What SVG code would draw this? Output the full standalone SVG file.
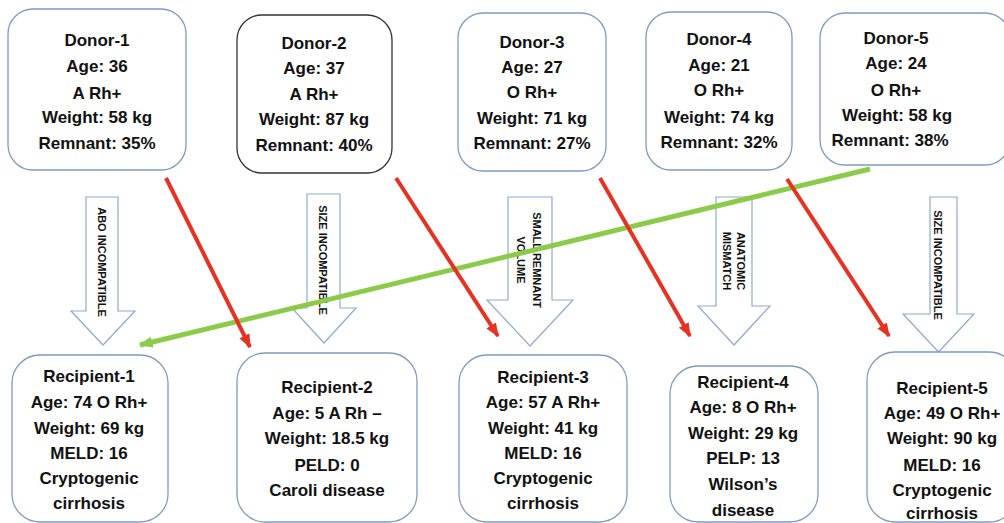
<svg xmlns="http://www.w3.org/2000/svg" width="1004" height="523" viewBox="0 0 1004 523">
<style>
.box{fill:#fff;stroke:#7f9bc3;stroke-width:1.3}
.dark{stroke:#333}
.t{font-family:"Liberation Sans",Arial,sans-serif;font-weight:bold;font-size:17px;fill:#111;text-anchor:middle}
.bl{fill:#fff;stroke:#8eaad0;stroke-width:1.2}
.at{font-family:"Liberation Sans",Arial,sans-serif;font-weight:bold;font-size:11px;fill:#111;text-anchor:middle;dominant-baseline:central}
.red{stroke:#e53222;stroke-width:4;fill:none;marker-end:url(#rh)}
.grn{stroke:#8ccb4a;stroke-width:5;fill:none;marker-end:url(#gh)}
</style>
<defs>
<marker id="rh" markerUnits="userSpaceOnUse" markerWidth="14" markerHeight="14" viewBox="0 0 10 10" refX="9" refY="5" orient="auto"><path d="M0,1 L10,5 L0,9 Z" fill="#e53222"/></marker>
<marker id="gh" markerUnits="userSpaceOnUse" markerWidth="14" markerHeight="14" viewBox="0 0 10 10" refX="9" refY="5" orient="auto"><path d="M0,1 L10,5 L0,9 Z" fill="#8ccb4a"/></marker>
</defs>
<rect width="1004" height="523" fill="#fff"/>
<g id="donor-1"><rect class="box" x="8" y="9" width="178" height="161" rx="25"/>
<text class="t" x="97" y="46">Donor-1</text><text class="t" x="97" y="72">Age: 36</text><text class="t" x="97" y="99">A Rh+</text><text class="t" x="97" y="123">Weight: 58 kg</text><text class="t" x="97" y="149">Remnant: 35%</text></g>
<g id="donor-2"><rect class="box dark" x="237" y="15" width="155" height="158" rx="25"/>
<text class="t" x="314" y="49">Donor-2</text><text class="t" x="314" y="74">Age: 37</text><text class="t" x="314" y="100">A Rh+</text><text class="t" x="314" y="125">Weight: 87 kg</text><text class="t" x="314" y="151">Remnant: 40%</text></g>
<g id="donor-3"><rect class="box" x="458" y="13" width="148" height="158" rx="25"/>
<text class="t" x="532" y="48">Donor-3</text><text class="t" x="532" y="73">Age: 27</text><text class="t" x="532" y="98">O Rh+</text><text class="t" x="532" y="124">Weight: 71 kg</text><text class="t" x="532" y="149">Remnant: 27%</text></g>
<g id="donor-4"><rect class="box" x="646" y="12" width="146" height="158" rx="25"/>
<text class="t" x="719" y="45">Donor-4</text><text class="t" x="719" y="71">Age: 21</text><text class="t" x="719" y="96">O Rh+</text><text class="t" x="719" y="123">Weight: 74 kg</text><text class="t" x="719" y="148">Remnant: 32%</text></g>
<g id="donor-5"><rect class="box" x="820" y="13" width="190" height="152" rx="25"/>
<text class="t" x="896" y="44">Donor-5</text><text class="t" x="896" y="69">Age: 24</text><text class="t" x="896" y="96">O Rh+</text><text class="t" x="897" y="121">Weight: 58 kg</text><text class="t" x="890" y="146">Remnant: 38%</text></g>
<g id="block-1"><polygon class="bl" points="86,197 118,197 118,311 135,311 103,345 71,311 86,311"/>
<text class="at" transform="translate(102,262) rotate(90)">ABO INCOMPATIBLE</text></g>
<g id="block-2"><polygon class="bl" points="307,194 340,194 340,308 356,308 324,343 292,308 307,308"/>
<text class="at" transform="translate(323,260) rotate(90)">SIZE INCOMPATIBLE</text></g>
<g id="block-3"><polygon class="bl" points="508,197 552,197 552,300 573,300 530,346 487,300 508,300"/>
<text class="at" transform="translate(537,260) rotate(90)">SMALL REMNANT</text><text class="at" transform="translate(521,260) rotate(90)">VOLUME</text></g>
<g id="block-4"><polygon class="bl" points="716,197 752,197 752,306 770,306 734,345 698,306 716,306"/>
<text class="at" transform="translate(741,261) rotate(90)">ANATOMIC</text><text class="at" transform="translate(727,261) rotate(90)">MISMATCH</text></g>
<g id="block-5"><polygon class="bl" points="930,197 957,197 957,314 974,314 938.5,352 903,314 930,314"/>
<text class="at" transform="translate(938,265) rotate(90)">SIZE INCOMPATIBLE</text></g>
<g id="recipient-1"><rect class="box" x="12" y="355" width="156" height="167" rx="28"/>
<text class="t" x="89" y="382">Recipient-1</text><text class="t" x="89" y="408">Age: 74 O Rh+</text><text class="t" x="89" y="434">Weight: 69 kg</text><text class="t" x="89" y="459">MELD: 16</text><text class="t" x="89" y="484">Cryptogenic</text><text class="t" x="89" y="509">cirrhosis</text></g>
<g id="recipient-2"><rect class="box" x="237" y="353" width="180" height="169" rx="28"/>
<text class="t" x="327" y="393">Recipient-2</text><text class="t" x="327" y="419">Age: 5 A Rh –</text><text class="t" x="327" y="444">Weight: 18.5 kg</text><text class="t" x="327" y="471">PELD: 0</text><text class="t" x="327" y="496">Caroli disease</text></g>
<g id="recipient-3"><rect class="box" x="459" y="355" width="168" height="167" rx="28"/>
<text class="t" x="543" y="383">Recipient-3</text><text class="t" x="543" y="408">Age: 57 A Rh+</text><text class="t" x="543" y="434">Weight: 41 kg</text><text class="t" x="543" y="459">MELD: 16</text><text class="t" x="543" y="484">Cryptogenic</text><text class="t" x="543" y="509">cirrhosis</text></g>
<g id="recipient-4"><rect class="box" x="670" y="366" width="148" height="156" rx="28"/>
<text class="t" x="743" y="388">Recipient-4</text><text class="t" x="743" y="413">Age: 8 O Rh+</text><text class="t" x="743" y="439">Weight: 29 kg</text><text class="t" x="743" y="464">PELP: 13</text><text class="t" x="743" y="490">Wilson’s</text><text class="t" x="743" y="516">disease</text></g>
<g id="recipient-5"><rect class="box" x="867" y="352" width="150" height="170" rx="28"/>
<text class="t" x="942" y="394">Recipient-5</text><text class="t" x="942" y="419">Age: 49 O Rh+</text><text class="t" x="942" y="444">Weight: 90 kg</text><text class="t" x="942" y="471">MELD: 16</text><text class="t" x="942" y="496">Cryptogenic</text><text class="t" x="942" y="519">cirrhosis</text></g>
<g id="connectors">
<line class="grn" x1="870" y1="169" x2="140" y2="345"/>
<line class="red" x1="166" y1="178" x2="250" y2="347"/>
<line class="red" x1="396" y1="178" x2="498" y2="336"/>
<line class="red" x1="600" y1="178" x2="690" y2="336"/>
<line class="red" x1="787" y1="179" x2="889" y2="336"/>
</g>
</svg>
